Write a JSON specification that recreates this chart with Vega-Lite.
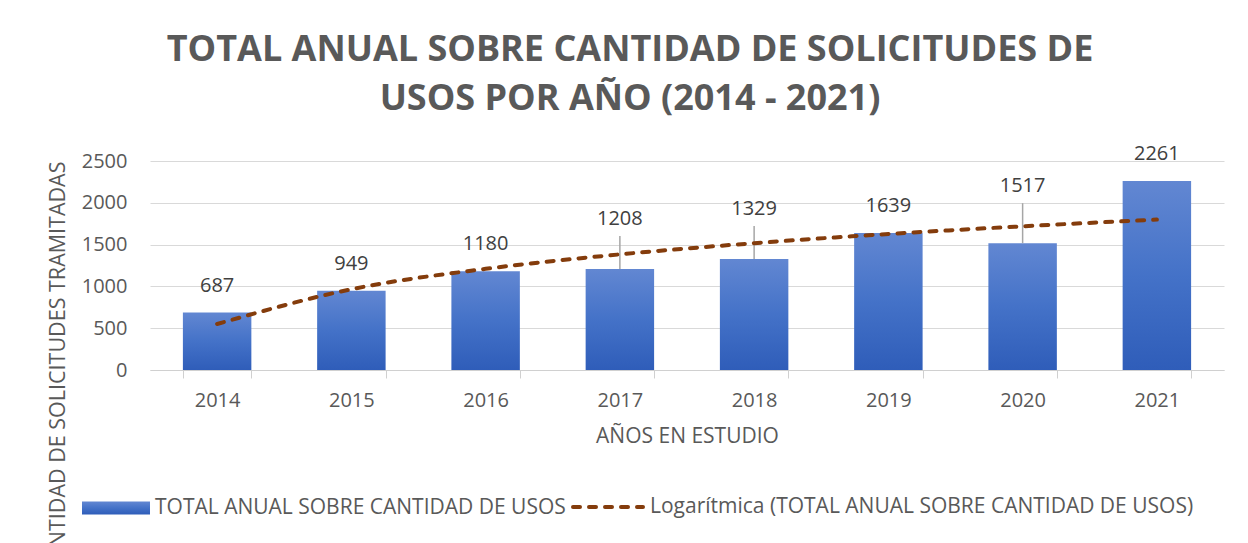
{
  "$schema": "https://vega.github.io/schema/vega-lite/v6.json",
  "width": 1074,
  "height": 209,
  "autosize": {"type": "none"},
  "padding": {"left": 150, "top": 161, "right": 24, "bottom": 173},
  "background": "white",
  "title": {
    "text": ["TOTAL ANUAL SOBRE CANTIDAD DE SOLICITUDES DE", "USOS POR AÑO (2014 - 2021)"],
    "font": "Open Sans",
    "fontSize": 36,
    "fontWeight": "bold",
    "color": "#595959",
    "anchor": "middle",
    "frame": "group",
    "dx": -57,
    "offset": 26,
    "lineHeight": 49
  },
  "config": {
    "view": {"stroke": null},
    "font": "Open Sans",
    "axis": {
      "labelFont": "Open Sans",
      "titleFont": "Open Sans",
      "labelColor": "#595959",
      "titleColor": "#595959",
      "labelFontSize": 20,
      "titleFontSize": 21.5,
      "titleFontWeight": "normal",
      "gridColor": "#D9D9D9",
      "domainColor": "#D0D0D0",
      "tickColor": "#D0D0D0"
    },
    "legend": {
      "labelFont": "Open Sans",
      "labelFontSize": 21,
      "labelColor": "#595959",
      "labelLimit": 0
    }
  },
  "data": {
    "values": [
      {"year": "2014", "total": 687, "trend": 550},
      {"year": "2015", "total": 949, "trend": 966},
      {"year": "2016", "total": 1180, "trend": 1210},
      {"year": "2017", "total": 1208, "trend": 1383},
      {"year": "2018", "total": 1329, "trend": 1517},
      {"year": "2019", "total": 1639, "trend": 1627},
      {"year": "2020", "total": 1517, "trend": 1719},
      {"year": "2021", "total": 2261, "trend": 1799}
    ]
  },
  "encoding": {
    "x": {
      "field": "year",
      "type": "ordinal",
      "scale": {"paddingInner": 0.49, "paddingOuter": 0.245},
      "axis": {
        "title": "AÑOS EN ESTUDIO",
        "titleFontSize": 21,
        "titlePadding": 15,
        "labelAngle": 0,
        "labelPadding": 12,
        "tickSize": 8,
        "tickBand": "extent",
        "grid": false
      }
    }
  },
  "layer": [
    {
      "mark": {
        "type": "bar",
        "color": {
          "gradient": "linear",
          "x1": 0, "y1": 0, "x2": 0, "y2": 1,
          "stops": [
            {"offset": 0, "color": "#6287D2"},
            {"offset": 0.5, "color": "#4472C8"},
            {"offset": 1, "color": "#2F5DB9"}
          ]
        }
      },
      "encoding": {
        "y": {
          "field": "total",
          "type": "quantitative",
          "scale": {"domain": [0, 2500], "nice": false},
          "axis": {
            "title": "CANTIDAD DE SOLICITUDES TRAMITADAS",
            "titleAnchor": "end",
            "titlePadding": 12,
            "values": [0, 500, 1000, 1500, 2000, 2500],
            "format": "d",
            "labelPadding": 23,
            "ticks": false,
            "domain": false,
            "grid": true
          }
        },
        "opacity": {
          "datum": "TOTAL ANUAL SOBRE CANTIDAD DE USOS",
          "type": "ordinal",
          "scale": {"range": [1]},
          "legend": {
            "orient": "none",
            "legendX": -68,
            "legendY": 313,
            "title": null,
            "symbolType": "M-1,-0.19L1,-0.19L1,0.19L-1,0.19Z",
            "symbolSize": 4624,
            "symbolStrokeWidth": 0,
            "symbolFillColor": "#4472C8",
            "labelOffset": 5,
            "encode": {
              "symbols": {
                "update": {
                  "fill": {
                    "value": {
                      "gradient": "linear",
                      "x1": 0, "y1": 0, "x2": 0, "y2": 1,
                      "stops": [
                        {"offset": 0, "color": "#6287D2"},
                        {"offset": 0.5, "color": "#4472C8"},
                        {"offset": 1, "color": "#2F5DB9"}
                      ]
                    }
                  }
                }
              }
            }
          }
        }
      }
    },
    {
      "transform": [{"filter": {"field": "year", "oneOf": ["2017", "2018"]}}],
      "mark": {"type": "rule", "color": "#A6A6A6", "strokeWidth": 1.5, "y2Offset": -33},
      "encoding": {
        "y": {"field": "total", "type": "quantitative", "axis": {"title": "CANTIDAD DE SOLICITUDES TRAMITADAS"}},
        "y2": {"field": "total"}
      }
    },
    {
      "transform": [{"filter": {"field": "year", "oneOf": ["2020"]}}],
      "mark": {"type": "rule", "color": "#A6A6A6", "strokeWidth": 1.5, "y2Offset": -40},
      "encoding": {
        "y": {"field": "total", "type": "quantitative", "axis": {"title": "CANTIDAD DE SOLICITUDES TRAMITADAS"}},
        "y2": {"field": "total"}
      }
    },
    {
      "mark": {
        "type": "line",
        "strokeWidth": 4,
        "strokeDash": [7, 9],
        "strokeCap": "round",
        "interpolate": "monotone"
      },
      "encoding": {
        "y": {"field": "trend", "type": "quantitative", "axis": {"title": "CANTIDAD DE SOLICITUDES TRAMITADAS"}},
        "stroke": {
          "datum": "Logarítmica (TOTAL ANUAL SOBRE CANTIDAD DE USOS)",
          "type": "nominal",
          "scale": {"range": ["#843C0C"]},
          "legend": {
            "orient": "none",
            "legendX": 421,
            "legendY": 309,
            "title": null,
            "symbolType": "stroke",
            "symbolSize": 4900,
            "symbolStrokeWidth": 4,
            "symbolDash": [7, 9],
            "labelOffset": 5,
            "encode": {"symbols": {"update": {"strokeCap": {"value": "round"}}}}
          }
        }
      }
    },
    {
      "transform": [{"filter": {"field": "year", "oneOf": ["2014", "2015", "2016", "2019", "2021"]}}],
      "mark": {"type": "text", "fontSize": 20, "color": "#404040", "dy": -27, "baseline": "middle", "font": "Open Sans"},
      "encoding": {
        "y": {"field": "total", "type": "quantitative", "axis": {"title": "CANTIDAD DE SOLICITUDES TRAMITADAS"}},
        "text": {"field": "total", "type": "quantitative"}
      }
    },
    {
      "transform": [{"filter": {"field": "year", "oneOf": ["2017", "2018"]}}],
      "mark": {"type": "text", "fontSize": 20, "color": "#404040", "dy": -50, "baseline": "middle", "font": "Open Sans"},
      "encoding": {
        "y": {"field": "total", "type": "quantitative", "axis": {"title": "CANTIDAD DE SOLICITUDES TRAMITADAS"}},
        "text": {"field": "total", "type": "quantitative"}
      }
    },
    {
      "transform": [{"filter": {"field": "year", "oneOf": ["2020"]}}],
      "mark": {"type": "text", "fontSize": 20, "color": "#404040", "dy": -57, "baseline": "middle", "font": "Open Sans"},
      "encoding": {
        "y": {"field": "total", "type": "quantitative", "axis": {"title": "CANTIDAD DE SOLICITUDES TRAMITADAS"}},
        "text": {"field": "total", "type": "quantitative"}
      }
    }
  ]
}
